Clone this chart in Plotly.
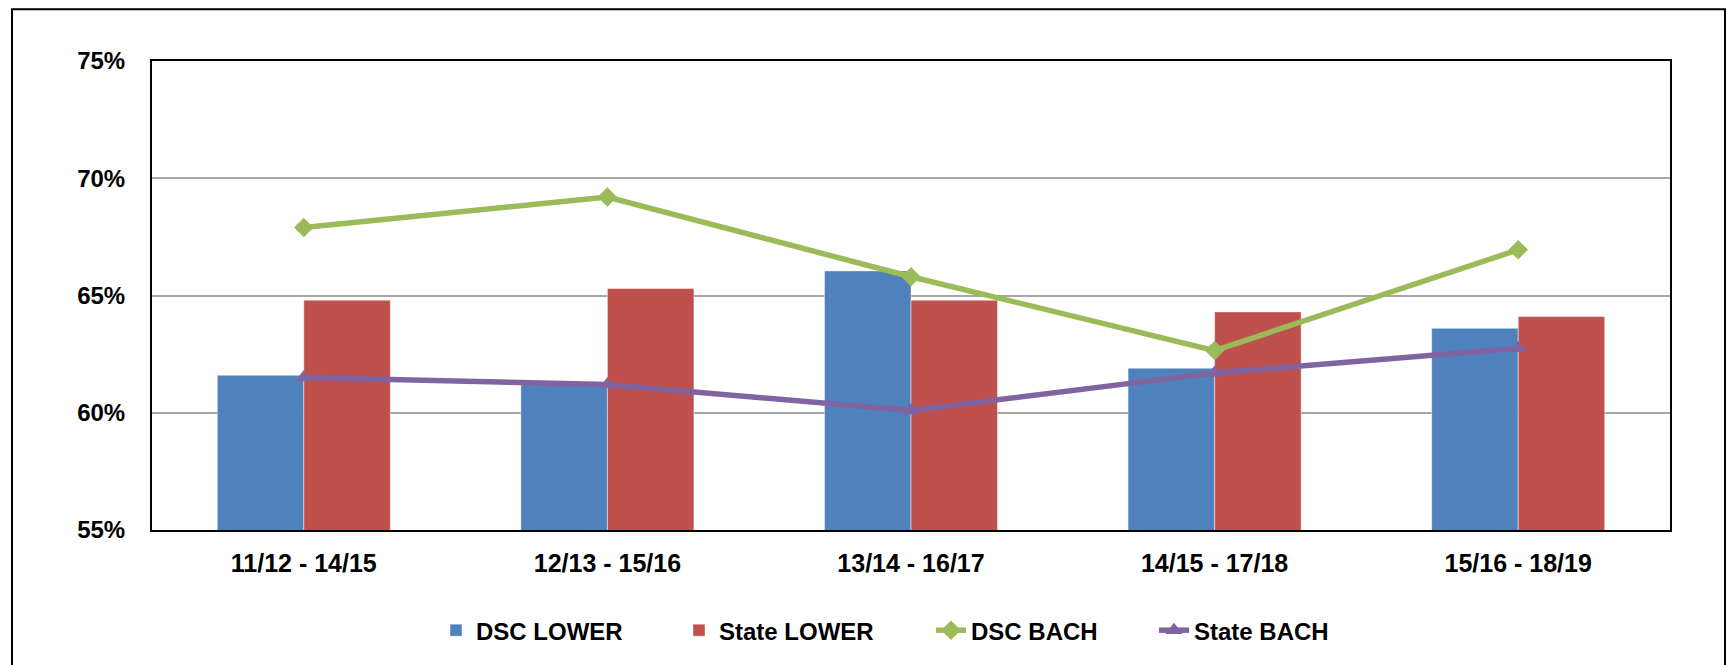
"""
Lower-division vs bachelor completion rates, DSC vs state, 4-year cohorts.
"""

import plotly.graph_objects as go

COHORTS = ["11/12 - 14/15", "12/13 - 15/16", "13/14 - 16/17", "14/15 - 17/18", "15/16 - 18/19"]

DSC_LOWER = [0.616, 0.612, 0.6605, 0.619, 0.636]
STATE_LOWER = [0.648, 0.653, 0.648, 0.643, 0.641]
DSC_BACH = [0.679, 0.692, 0.658, 0.6265, 0.6695]
STATE_BACH = [0.615, 0.612, 0.601, 0.617, 0.6275]

BLUE = "#4F81BD"
RED = "#C0504D"
GREEN = "#9BBB59"
PURPLE = "#8064A2"

W, H = 1727, 665
L, R, T, B = 152, 57, 61, 133
PW, PH = W - L - R, H - T - B

FONT = "Liberation Sans, Arial, sans-serif"


def px_x(px):
    return (px - L) / PW


def px_y(py):
    return (H - B - py) / PH


fig = go.Figure()

fig.add_trace(go.Bar(
    x=COHORTS, y=DSC_LOWER, name="DSC LOWER",
    marker=dict(color=BLUE, line=dict(color="rgba(255,255,255,0.45)", width=1)),
    legend="legend",
))
fig.add_trace(go.Bar(
    x=COHORTS, y=STATE_LOWER, name="State LOWER",
    marker=dict(color=RED, line=dict(color="rgba(255,255,255,0.45)", width=1)),
    legend="legend2",
))
fig.add_trace(go.Scatter(
    x=COHORTS, y=DSC_BACH, name="DSC BACH", mode="lines+markers",
    line=dict(color=GREEN, width=5.5),
    marker=dict(symbol="diamond", size=15, color=GREEN),
    legend="legend3",
))
fig.add_trace(go.Scatter(
    x=COHORTS, y=STATE_BACH, name="State BACH", mode="lines+markers",
    line=dict(color=PURPLE, width=5.5),
    marker=dict(symbol="triangle-up", size=15, color=PURPLE),
    legend="legend4",
))

# outer chart frame (runs off the bottom of the window like the original)
fig.add_shape(
    type="rect", xref="paper", yref="paper", layer="below",
    x0=px_x(12), x1=px_x(1725), y0=px_y(720), y1=px_y(9),
    line=dict(color="black", width=2), fillcolor="rgba(0,0,0,0)",
)

leg = dict(
    orientation="h", yanchor="middle", xanchor="left", y=px_y(633),
    font=dict(family=FONT, size=24, color="black", weight="bold"),
    bgcolor="rgba(0,0,0,0)", itemwidth=30,
)
text_starts = [484, 727, 979, 1202]

fig.update_layout(
    width=W, height=H,
    margin=dict(l=L, r=R, t=T, b=B),
    paper_bgcolor="white", plot_bgcolor="white",
    barmode="group", bargap=0.43, bargroupgap=0,
    font=dict(family=FONT, color="black"),
    showlegend=True,
    legend=dict(leg, x=px_x(text_starts[0] - 48)),
    legend2=dict(leg, x=px_x(text_starts[1] - 48)),
    legend3=dict(leg, x=px_x(text_starts[2] - 48)),
    legend4=dict(leg, x=px_x(text_starts[3] - 48)),
)

fig.update_xaxes(
    showline=True, linecolor="black", linewidth=2, mirror=True,
    showgrid=False, ticks="",
    tickfont=dict(family=FONT, size=25, color="black", weight="bold"),
    ticklabelstandoff=10,
)
fig.update_yaxes(
    range=[0.55, 0.75], dtick=0.05, tickformat=".0%",
    showline=True, linecolor="black", linewidth=2, mirror=True,
    showgrid=True, gridcolor="#A6A6A6", gridwidth=2,
    zeroline=False, ticks="",
    tickfont=dict(family=FONT, size=24, color="black", weight="bold"),
    ticklabelstandoff=20,
)

fig.write_html(
    "out.html",
    config={"displayModeBar": False},
    post_script="document.body.style.margin='0';",
)
